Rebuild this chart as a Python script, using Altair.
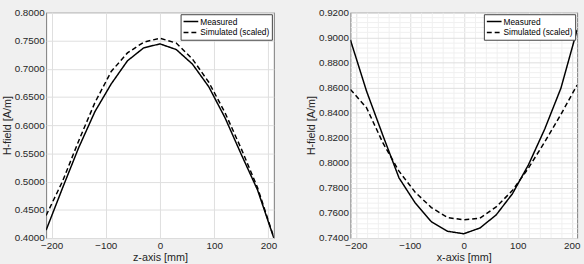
import altair as alt
import numpy as np
import pandas as pd

# ---- data ----
positions = [-210, -180, -150, -120, -90, -60, -30, 0, 30, 60, 90, 120, 150, 180, 210]

z_measured = [0.414, 0.488, 0.560, 0.624, 0.673, 0.714, 0.737, 0.744,
              0.734, 0.708, 0.668, 0.613, 0.548, 0.485, 0.400]
z_simulated = [0.440, 0.500, 0.572, 0.640, 0.695, 0.728, 0.747, 0.754,
               0.7455, 0.717, 0.676, 0.622, 0.558, 0.489, 0.401]

x_measured = [0.898, 0.857, 0.822, 0.788, 0.768, 0.753, 0.7454, 0.7434,
              0.748, 0.7584, 0.7752, 0.7985, 0.8269, 0.8595, 0.906]
x_simulated = [0.8585, 0.8438, 0.816, 0.7933, 0.7765, 0.7643, 0.7563, 0.7545,
               0.7558, 0.7648, 0.7778, 0.7959, 0.8166, 0.8386, 0.862]

series_names = ["Measured", "Simulated (scaled)"]
x_major_ticks = [-200, -100, 0, 100, 200]
z_y_ticks = [0.40, 0.45, 0.50, 0.55, 0.60, 0.65, 0.70, 0.75, 0.80]
x_y_ticks = [0.74, 0.76, 0.78, 0.80, 0.82, 0.84, 0.86, 0.88, 0.90, 0.92]

FONT = "Liberation Sans"
TXT = "#262626"
MAJOR_GRID = "#dedede"
MINOR_GRID = "#f0f0f0"


def long_frame(meas, sim):
    return pd.DataFrame({
        "pos": positions * 2,
        "val": list(meas) + list(sim),
        "series": [series_names[0]] * len(positions) + [series_names[1]] * len(positions),
    })


def panel(meas, sim, xtitle, ydomain, yticks, minor, width):
    df = long_frame(meas, sim)
    if minor:
        xvals = [int(v) for v in np.arange(-200, 201, 20)]
        yvals = [round(float(v), 3) for v in np.arange(ydomain[0], ydomain[1] + 1e-9, 0.004)]
        ytest = "abs(datum.value*50 - round(datum.value*50)) < 1e-6"
        xaxis = alt.Axis(
            values=xvals, title=xtitle, grid=True, ticks=False, domain=False,
            labelExpr="datum.value % 100 == 0 ? datum.label : ''",
            labelOverlap=False,
            gridColor={"condition": {"test": "datum.value % 100 == 0", "value": MAJOR_GRID},
                       "value": MINOR_GRID},
        )
        yaxis = alt.Axis(
            values=yvals, title="H-field [A/m]", grid=True, ticks=False, domain=False,
            labelExpr=f"{ytest} ? format(datum.value, '.4f') : ''",
            labelOverlap=False,
            gridColor={"condition": {"test": ytest, "value": MAJOR_GRID},
                       "value": MINOR_GRID},
        )
    else:
        xaxis = alt.Axis(values=x_major_ticks, title=xtitle, grid=True, ticks=False,
                         domain=False, gridColor=MAJOR_GRID)
        yaxis = alt.Axis(values=yticks, format=".4f", title="H-field [A/m]", grid=True,
                         ticks=False, domain=False, gridColor=MAJOR_GRID)

    return alt.Chart(df).mark_line(color="black", strokeWidth=1.5, clip=True).encode(
        x=alt.X("pos:Q", scale=alt.Scale(domain=[-210, 210], nice=False, zero=False), axis=xaxis),
        y=alt.Y("val:Q", scale=alt.Scale(domain=ydomain, nice=False, zero=False), axis=yaxis),
        strokeDash=alt.StrokeDash(
            "series:N",
            scale=alt.Scale(domain=series_names, range=[[1, 0], [5, 3]]),
            legend=alt.Legend(
                orient="top-right", title=None, fillColor="white", strokeColor="#404040",
                padding=2, offset=2, symbolType="stroke", symbolSize=225,
                symbolStrokeWidth=1.5, symbolStrokeColor="black",
                labelFontSize=8.5, labelFont=FONT, labelColor="black",
                labelOffset=1, rowPadding=0, clipHeight=11,
            ),
        ),
        detail="series:N",
    ).properties(width=width, height=230)


left = panel(z_measured, z_simulated, "z-axis [mm]", [0.40, 0.80], z_y_ticks, False, 232)
right = panel(x_measured, x_simulated, "x-axis [mm]", [0.74, 0.92], x_y_ticks, True, 231)

chart = alt.hconcat(left, right, spacing=27).resolve_scale(
    strokeDash="independent"
).resolve_legend(
    strokeDash="independent"
).configure(
    background="#f0f0f0",
    padding={"left": 0, "top": 4, "right": 3, "bottom": 0},
).configure_view(
    fill="white", stroke="#7a7a7a", strokeWidth=1,
).configure_axis(
    labelFont=FONT, labelFontSize=10, labelColor=TXT, labelPadding=2,
    titleFont=FONT, titleFontSize=11, titleFontWeight="normal", titleColor=TXT,
    titlePadding=2, gridWidth=1,
).configure_axisX(labelPadding=3, titlePadding=1)

chart.save("out.html", embed_options={"renderer": "svg", "actions": False})
